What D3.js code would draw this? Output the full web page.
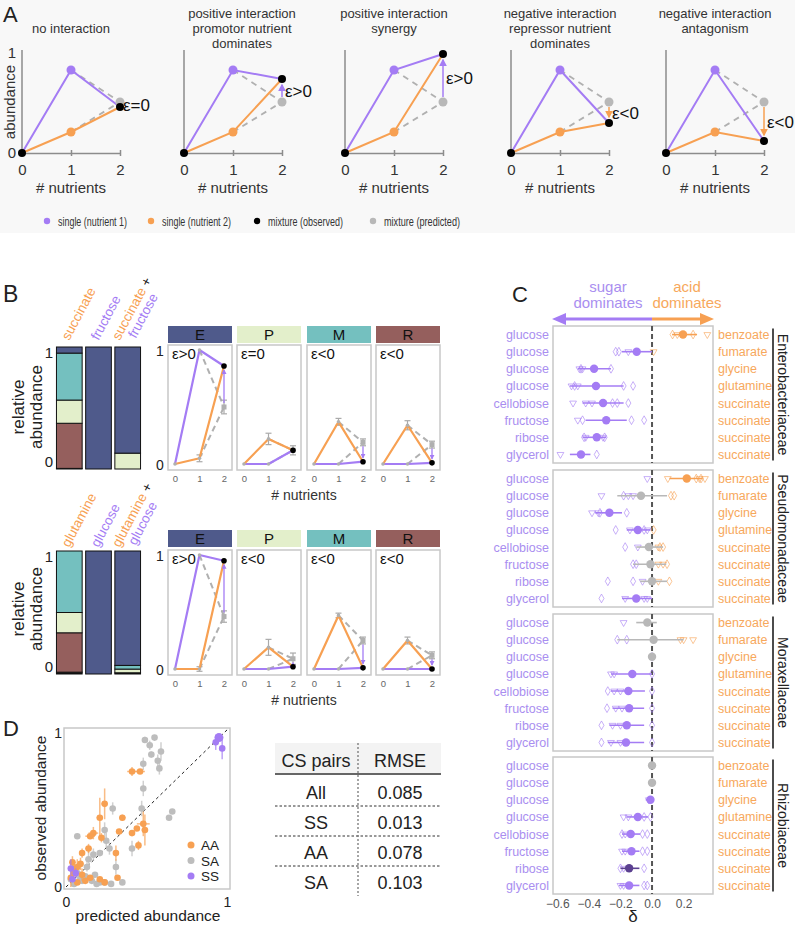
<!DOCTYPE html>
<html><head><meta charset="utf-8">
<script src="https://cdn.jsdelivr.net/npm/d3@7"></script>
<style>
body{margin:0;background:#fff;}
svg{display:block;font-family:"Liberation Sans",Arial,Helvetica,sans-serif;}
</style></head><body>
<svg id="fig" width="795" height="927"></svg>
<script>
// ================= DATA =================
// Panel A
const aTitles = [["no interaction"],["positive interaction","promotor nutrient","dominates"],["positive interaction","synergy"],["negative interaction","repressor nutrient","dominates"],["negative interaction","antagonism"]];
const aXTicks = [0,1,2];
const aYTicks = [0,1];
const aSingle1 = [0.83,0.83,0.83,0.83,0.83];
const aSingle2 = [0.21,0.21,0.21,0.21,0.21];
const aPredicted = [0.51,0.51,0.51,0.51,0.51];
const aObserved = [0.46,0.74,0.99,0.30,0.12];
const aEpsilon = ["ε=0","ε>0","ε>0","ε<0","ε<0"];
const legendLabels = ["single (nutrient 1)","single (nutrient 2)","mixture (observed)","mixture (predicted)"];

// Panel B
const bFamilies = ["E","P","M","R"];
const bStackKeys = ["other","R","P","M","E"]; // bottom -> top
const bTopBarNames = [["succinate"],["fructose"],["succinate","fructose"]];
const bBotBarNames = [["glutamine"],["glucose"],["glutamine","glucose"]];
const bTopComposition = [[0.005,0.37,0.19,0.385,0.05],[0,0,0,0,1],[0,0,0.13,0,0.87]];
const bBotComposition = [[0.015,0.32,0.165,0.5,0],[0,0,0,0,1],[0.01,0,0.03,0.03,0.93]];
const bNutrientTicks = [0,1,2];
const bTopSugar = [1.0,0,0,0];
const bTopAcid = [0.05,0.22,0.37,0.34];
const bTopObserved = [0.86,0.12,0.02,0.01];
const bTopPredicted = [0.5,0.12,0.19,0.17];
const bTopAcidErr = [0.03,0.05,0.03,0.04];
const bTopPredErr = [0.06,0.04,0.03,0.03];
const bTopEps = ["ε>0","ε=0","ε<0","ε<0"];
const bBotSugar = [1.0,0,0,0];
const bBotAcid = [0.0,0.19,0.47,0.25];
const bBotObserved = [0.95,0.02,0.01,0.0];
const bBotPredicted = [0.46,0.09,0.25,0.12];
const bBotAcidErr = [0.02,0.07,0.02,0.03];
const bBotPredErr = [0.05,0.05,0.03,0.03];
const bBotEps = ["ε>0","ε<0","ε<0","ε<0"];

// Panel C
const cFamilies = ["Enterobacteriaceae","Pseudomonadaceae","Moraxellaceae","Rhizobiaceae"];
const cSugars = ["glucose","glucose","glucose","glucose","cellobiose","fructose","ribose","glycerol"];
const cAcids = ["benzoate","fumarate","glycine","glutamine","succinate","succinate","succinate","succinate"];
const cTicks = [-0.6,-0.4,-0.2,0,0.2];
const cDelta = [
  [0.196,-0.097,-0.367,-0.355,-0.31,-0.29,-0.35,-0.45],
  [0.22,-0.07,-0.27,-0.09,-0.02,-0.01,0.0,-0.10],
  [-0.03,0.01,0.0,-0.125,-0.15,-0.145,-0.16,-0.165],
  [0.0,0.0,-0.01,-0.09,-0.135,-0.13,-0.145,-0.145]];
const cLow = [
  [0.127,-0.19,-0.47,-0.52,-0.44,-0.42,-0.44,-0.52],
  [0.11,-0.22,-0.36,-0.16,-0.10,-0.12,-0.075,-0.19],
  [-0.10,-0.22,0.0,-0.26,-0.26,-0.25,-0.27,-0.28],
  [0.0,0.0,-0.04,-0.16,-0.19,-0.19,-0.20,-0.21]];
const cHigh = [
  [0.285,0.0,-0.26,-0.18,-0.18,-0.16,-0.29,-0.39],
  [0.32,0.095,-0.19,-0.01,0.07,0.09,0.095,0.0],
  [0.03,0.20,0.0,0.0,-0.045,-0.05,-0.05,-0.05],
  [0.0,0.0,0.005,-0.025,-0.075,-0.08,-0.08,-0.08]];
const cWinner = [
  ["A","S","S","S","S","S","S","S"],
  ["A","N","S","S","N","N","N","S"],
  ["N","N","N","S","S","S","S","S"],
  ["N","N","S","S","S","S","D","S"]];
const cDiamonds = [
  [[0.13,0.26],[-0.23,-0.21],[-0.26,-0.45],[-0.18,-0.12,-0.49],[-0.15,-0.22,-0.25],[-0.13,-0.05,-0.44],[-0.30,-0.43],[-0.35]],
  [[0.28,0.31],[-0.18,0.12,0.14],[-0.16,-0.33],[-0.23,0.01,-0.05],[-0.17,0.07,0.05],[-0.12,0.095,-0.10],[-0.28,-0.12,0.11],[-0.32]],
  [[],[-0.22,-0.16],[0.0],[0.0],[-0.28,0.0],[-0.285,0.0],[-0.32,0.0],[-0.32,0.0]],
  [[],[],[],[-0.01,-0.05],[-0.03,-0.06,-0.19],[-0.03,-0.06],[-0.05,-0.20],[-0.03,-0.05]]];
const cTriangles = [
  [[0.35,0.16],[0.01,-0.15],[-0.46,-0.44],[-0.51,-0.47],[-0.50,-0.38,-0.42],[-0.47],[-0.42,-0.31],[-0.58]],
  [[0.10,0.335,-0.03,0.30],[-0.32,-0.15,-0.12],[-0.38,-0.34],[-0.14,-0.03],[-0.09,0.04],[0.04,0.07],[0.04,-0.06],[-0.17,-0.05,-0.03]],
  [[-0.18],[0.18,0.20,0.26],[],[-0.26,-0.24],[-0.20,-0.24],[-0.23,-0.19],[-0.25,-0.20],[-0.26,-0.20]],
  [[],[],[-0.02],[-0.18,-0.15],[-0.17],[-0.19,-0.17],[-0.18],[-0.20,-0.18]]];

// Panel D  [predicted, observed, xerr, yerr]
const dTicks = [0,1];
const dSA = [[0.49,0.955,0,0.02],[0.55,0.97,0,0],[0.52,0.92,0.01,0.03],[0.53,0.86,0,0.02],[0.59,0.88,0,0.06],[0.57,0.82,0,0.04],[0.48,0.80,0,0.04],[0.58,0.77,0,0.04],[0.48,0.64,0,0.05],[0.47,0.51,0,0.05],[0.66,0.49,0,0],[0.64,0.45,0,0],[0.29,0.51,0,0.04],[0.24,0.37,0,0.05],[0.25,0.30,0,0.05],[0.21,0.22,0,0],[0.27,0.25,0,0.04],[0.31,0.13,0,0.05],[0.41,0.25,0,0.05],[0.07,0.33,0,0],[0.14,0.18,0.02,0.06],[0.17,0.21,0,0.04],[0.21,0.03,0,0],[0.24,0.03,0,0],[0.28,0.02,0,0],[0.35,0.03,0,0],[0.13,0.13,0,0.03],[0.07,0.09,0,0.06],[0.10,0.04,0,0],[0.16,0.04,0,0],[0.19,0.02,0,0],[0.05,0.02,0,0],[0.12,0.07,0,0],[0.18,0.08,0,0],[0.09,0.06,0,0.04],[0.03,0.05,0,0]];
const dAA = [[0.41,0.75,0.03,0.03],[0.46,0.75,0.03,0],[0.24,0.54,0.02,0.10],[0.21,0.45,0.02,0.13],[0.35,0.45,0.02,0.02],[0.33,0.36,0.02,0],[0.48,0.41,0.04,0.08],[0.49,0.37,0.02,0.10],[0.44,0.38,0,0],[0.41,0.35,0,0],[0.17,0.35,0.03,0.04],[0.15,0.33,0.03,0],[0.22,0.32,0,0.03],[0.14,0.25,0.02,0.03],[0.10,0.22,0,0.03],[0.45,0.27,0,0.03],[0.31,0.22,0,0.05],[0.04,0.16,0.02,0.04],[0.09,0.15,0.02,0.04],[0.05,0.12,0.03,0.03],[0.07,0.13,0,0.05],[0.15,0.06,0.02,0],[0.21,0.05,0,0],[0.32,0.06,0,0],[0.10,0.08,0,0.04],[0.03,0.06,0,0.06],[0.07,0.03,0,0],[0.24,0.03,0,0],[0.12,0.04,0,0],[0.05,0.09,0.02,0]];
const dSS = [[0.95,0.97,0,0.02],[0.93,0.94,0,0.05],[0.97,0.90,0,0.07],[0.03,0.12,0,0.06],[0.06,0.09,0,0.03],[0.04,0.05,0,0]];
const dLegend = ["AA","SA","SS"];
const tableHeader = ["CS pairs","RMSE"];
const tablePairs = ["All","SS","AA","SA"];
const tableRMSE = ["0.085","0.013","0.078","0.103"];

// ================= STYLE =================
const COL = {purple:"#a47cf4", orange:"#f7a052", gray:"#b4b4b4", dark:"#5b4090", txt:"#222",
  lpurple:"#a98ef0", lorange:"#f7a85c"};
const famColor = {E:"#4f5a8b", P:"#e3efcb", M:"#74c0bf", R:"#955f5d", other:"#111"};
const intFmt = d3.format("d");

const svg = d3.select("#fig");
const defs = svg.append("defs");
[["p",COL.purple],["o",COL.orange]].forEach(([k,c])=>{
  defs.append("marker").attr("id","ah-"+k).attr("viewBox","0 0 10 10").attr("refX",8).attr("refY",5)
    .attr("markerWidth",8).attr("markerHeight",8).attr("markerUnits","userSpaceOnUse").attr("orient","auto")
    .append("path").attr("d","M0,0L10,5L0,10z").attr("fill",c);
  defs.append("marker").attr("id","ahs-"+k).attr("viewBox","0 0 10 10").attr("refX",8).attr("refY",5)
    .attr("markerWidth",5).attr("markerHeight",5).attr("markerUnits","userSpaceOnUse").attr("orient","auto")
    .append("path").attr("d","M0,0L10,5L0,10z").attr("fill",c);
});
function T(g,s,x,y,size,opt={}){
  const t=g.append("text").attr("x",x).attr("y",y).attr("font-size",size).attr("fill",opt.fill||COL.txt)
   .attr("text-anchor",opt.anchor||"start").text(s);
  if(opt.transform) t.attr("transform",opt.transform);
  if(opt.len) t.attr("textLength",opt.len).attr("lengthAdjust","spacingAndGlyphs");
  return t;
}
const line = d3.line();

// ================= PANEL A =================
svg.append("rect").attr("x",0).attr("y",0).attr("width",795).attr("height",233).attr("fill","#f8f8f8");
T(svg,"A",3,22,22);
const aOrigins=[22,184,345,511,666];
const aTitleDx=[0,9,0,0,0];
aOrigins.forEach((ox,i)=>{
  const x=d3.scaleLinear().domain([0,2]).range([ox,ox+98]);
  const y=d3.scaleLinear().domain([0,1]).range([153,53]);
  const g=svg.append("g");
  aTitles[i].forEach((s,j,arr)=>T(g,s,ox+49+aTitleDx[i],(arr.length===1?33:18)+15*j,13,{anchor:"middle",fill:"#333"}));
  g.append("line").attr("x1",ox).attr("x2",ox).attr("y1",50).attr("y2",y(0)).attr("stroke","#8c8c8c").attr("stroke-width",1.5);
  const xa=g.append("g").attr("transform",`translate(0,${y(0)})`)
    .call(d3.axisBottom(x).tickValues(aXTicks).tickFormat(intFmt).tickSize(3).tickSizeOuter(0).tickPadding(8));
  xa.attr("font-family",null).attr("font-size",15);
  xa.select(".domain").attr("stroke","#8c8c8c").attr("stroke-width",1.5);
  xa.selectAll(".tick line").attr("y1",-3).attr("y2",3).attr("stroke","#8c8c8c").attr("stroke-width",1.5);
  xa.selectAll(".tick text").attr("fill","#333");
  if(i===0){
    const ya=g.append("g").attr("transform",`translate(${ox},0)`).call(d3.axisLeft(y).tickValues(aYTicks).tickFormat(intFmt).tickSize(0).tickPadding(6));
    ya.attr("font-family",null).attr("font-size",15); ya.select(".domain").remove();
    ya.selectAll(".tick text").attr("fill","#333");
    T(g,"abundance",0,0,15,{anchor:"middle",fill:"#333",transform:`translate(15,102) rotate(-90)`});
  }
  T(g,"# nutrients",x(1),193,15,{anchor:"middle",fill:"#333"});
  const s1=aSingle1[i], s2=aSingle2[i], pr=aPredicted[i], ob=aObserved[i];
  [[[1,s1],[2,pr]],[[1,s2],[2,pr]]].forEach(seg=>{
    g.append("path").attr("d",line(seg.map(d=>[x(d[0]),y(d[1])]))).attr("fill","none")
     .attr("stroke","#b0b0b0").attr("stroke-width",1.8).attr("stroke-dasharray","6,5");
  });
  g.append("path").attr("d",line([[0,0],[1,s1],[2,ob]].map(d=>[x(d[0]),y(d[1])]))).attr("fill","none").attr("stroke",COL.purple).attr("stroke-width",2);
  g.append("path").attr("d",line([[0,0],[1,s2],[2,ob]].map(d=>[x(d[0]),y(d[1])]))).attr("fill","none").attr("stroke",COL.orange).attr("stroke-width",2);
  g.append("circle").attr("cx",x(1)).attr("cy",y(s1)).attr("r",4.5).attr("fill",COL.purple);
  g.append("circle").attr("cx",x(1)).attr("cy",y(s2)).attr("r",4.5).attr("fill",COL.orange);
  g.append("circle").attr("cx",x(2)).attr("cy",y(pr)).attr("r",4.5).attr("fill","#b8b8b8");
  g.append("circle").attr("cx",x(0)).attr("cy",y(0)).attr("r",4).attr("fill","#000");
  g.append("circle").attr("cx",x(2)).attr("cy",y(ob)).attr("r",4).attr("fill","#000");
  const diff=ob-pr;
  if(Math.abs(diff)>0.05){
    const up=diff>0, k=up?"p":"o";
    g.append("line").attr("x1",x(2)).attr("x2",x(2))
      .attr("y1",y(pr)+(up?-5:5)).attr("y2",y(ob)+(up?6:-6))
      .attr("stroke",up?COL.purple:COL.orange).attr("stroke-width",1.5).attr("marker-end",`url(#ah-${k})`);
  }
  T(g,aEpsilon[i],ox+101,(y(pr)+y(ob))/2+6,17,{fill:"#111"});
});
// legend
const legCols=[COL.purple,COL.orange,"#000","#b8b8b8"];
const legX=[47,151,257,373];
const legW=[69,69,75,76];
legendLabels.forEach((s,i)=>{
  svg.append("circle").attr("cx",legX[i]).attr("cy",221).attr("r",3.2).attr("fill",legCols[i]);
  T(svg,s,legX[i]+11,225.5,12.5,{fill:"#333",len:legW[i]});
});

// ================= PANEL B =================
T(svg,"B",3,302,23);
const bRows=[
  {barTop:347,barBot:469,hTop:326,pTop:345,names:bTopBarNames,comp:bTopComposition,sug:bTopSugar,acid:bTopAcid,obs:bTopObserved,pred:bTopPredicted,aErr:bTopAcidErr,pErr:bTopPredErr,eps:bTopEps,lab:341,ylab:407},
  {barTop:551,barBot:674,hTop:530,pTop:550,names:bBotBarNames,comp:bBotComposition,sug:bBotSugar,acid:bBotAcid,obs:bBotObserved,pred:bBotPredicted,aErr:bBotAcidErr,pErr:bBotPredErr,eps:bBotEps,lab:548,ylab:609}
];
const bx=d3.scaleBand().domain([0,1,2]).range([55,142]).paddingInner(0.12).paddingOuter(0.05);
const bPanelX=[168,237,307,376];
bRows.forEach(row=>{
  const g=svg.append("g");
  const by=d3.scaleLinear().domain([0,1]).range([row.barBot,row.barTop]);
  const stackData=row.comp.map((c,i)=>{const o={i};bStackKeys.forEach((k,j)=>o[k]=c[j]);return o;});
  const series=d3.stack().keys(bStackKeys)(stackData);
  series.forEach(s=>{
    s.forEach(d=>{
      if(d[1]-d[0]<=0) return;
      g.append("rect").attr("x",bx(d.data.i)).attr("width",bx.bandwidth())
        .attr("y",by(d[1])).attr("height",by(d[0])-by(d[1]))
        .attr("fill",famColor[s.key]).attr("stroke","#111").attr("stroke-width",1);
    });
  });
  T(g,"1",53,by(1)+11,15,{anchor:"end"});
  T(g,"0",53,by(0)-2,15,{anchor:"end"});
  T(g,"relative",0,0,17,{anchor:"middle",transform:`translate(24,${row.ylab}) rotate(-90)`});
  T(g,"abundance",0,0,17,{anchor:"middle",transform:`translate(42,${row.ylab}) rotate(-90)`});
  row.names.forEach((nm,i)=>{
    const c=bx(i)+bx.bandwidth()/2;
    nm.forEach((s,j)=>{
      const isAcid = (j===0 && i!==1);
      const px = nm.length===1 ? c : c-8+16*j;
      const py = row.lab - 2*j;
      const t=g.append("text").attr("font-size",13.5).attr("transform",`translate(${px},${py}) rotate(-62)`);
      t.append("tspan").attr("fill",isAcid?COL.orange:COL.purple).text(s);
      if(nm.length>1 && j===0) t.append("tspan").attr("fill","#111").text(" +");
    });
  });
  // small multiples
  bFamilies.forEach((f,j)=>{
    const px=bPanelX[j], top=row.pTop;
    const x=d3.scaleLinear().domain([0,2]).range([px+7,px+56]);
    const y=d3.scaleLinear().domain([0,1]).range([top+119,top+5]);
    g.append("rect").attr("x",px).attr("y",row.hTop).attr("width",64).attr("height",17).attr("fill",famColor[f]);
    T(g,f,px+32,row.hTop+14,15,{anchor:"middle",fill:"#111"});
    g.append("rect").attr("x",px).attr("y",top).attr("width",64).attr("height",125).attr("fill","#fff").attr("stroke","#c8c8c8").attr("stroke-width",1.5);
    const xa=g.append("g").attr("transform",`translate(0,${top+125})`).call(d3.axisBottom(x).tickValues(bNutrientTicks).tickFormat(intFmt).tickSize(0).tickPadding(5));
    xa.attr("font-family",null).attr("font-size",9.5); xa.select(".domain").remove(); xa.selectAll(".tick text").attr("fill","#666");
    const s1=row.sug[j], s2=row.acid[j], pr=row.pred[j], ob=row.obs[j];
    [[[1,s1],[2,pr]],[[1,s2],[2,pr]]].forEach(seg=>{
      g.append("path").attr("d",line(seg.map(d=>[x(d[0]),y(d[1])]))).attr("fill","none")
       .attr("stroke","#b0b0b0").attr("stroke-width",2).attr("stroke-dasharray","6,4");
    });
    [[1,s2,row.aErr[j]],[2,pr,row.pErr[j]]].forEach(([xv,yv,e])=>{
      if(e<=0) return;
      const eg=g.append("g").attr("stroke","#aaa").attr("stroke-width",1.2);
      eg.append("line").attr("x1",x(xv)).attr("x2",x(xv)).attr("y1",y(yv-e)).attr("y2",y(yv+e));
      eg.append("line").attr("x1",x(xv)-3).attr("x2",x(xv)+3).attr("y1",y(yv-e)).attr("y2",y(yv-e));
      eg.append("line").attr("x1",x(xv)-3).attr("x2",x(xv)+3).attr("y1",y(yv+e)).attr("y2",y(yv+e));
    });
    g.append("path").attr("d",line([[0,0],[1,s1],[2,ob]].map(d=>[x(d[0]),y(d[1])]))).attr("fill","none").attr("stroke",COL.purple).attr("stroke-width",2.2).attr("stroke-linejoin","round");
    g.append("path").attr("d",line([[0,0],[1,s2],[2,ob]].map(d=>[x(d[0]),y(d[1])]))).attr("fill","none").attr("stroke",COL.orange).attr("stroke-width",2.2).attr("stroke-linejoin","round");
    [[0,0],[1,s1],[1,s2]].forEach(d=>g.append("circle").attr("cx",x(d[0])).attr("cy",y(d[1])).attr("r",1.8).attr("fill","#b0b0b0"));
    g.append("rect").attr("x",x(2)-2.5).attr("y",y(pr)-2.5).attr("width",5).attr("height",5).attr("fill","#b0b0b0");
    const diff=ob-pr;
    if(Math.abs(diff)>0.05){
      const up=diff>0;
      g.append("line").attr("x1",x(2)).attr("x2",x(2)).attr("y1",y(pr)+(up?-4:4)).attr("y2",y(ob)+(up?4:-4))
        .attr("stroke",COL.purple).attr("stroke-width",1.3).attr("marker-end","url(#ahs-p)");
    }
    g.append("circle").attr("cx",x(2)).attr("cy",y(ob)).attr("r",2.8).attr("fill","#000");
    T(g,row.eps[j],px+4,top+14,15,{fill:"#111"});
    if(j===0){
      T(g,"1",160,y(1)+6,14,{anchor:"middle"});
      T(g,"0",160,y(0)+6,14,{anchor:"middle"});
    }
  });
  T(g,"# nutrients",304,row.pTop+155,14,{anchor:"middle",fill:"#333"});
});

// ================= PANEL C =================
T(svg,"C",512,302,22);
const cx=d3.scaleLinear().domain([-0.627,0.386]).range([553,713]);
T(svg,"sugar",608,292,15,{anchor:"middle",fill:COL.lpurple});
T(svg,"dominates",608,308,15,{anchor:"middle",fill:COL.lpurple});
T(svg,"acid",687,292,15,{anchor:"middle",fill:COL.lorange});
T(svg,"dominates",687,308,15,{anchor:"middle",fill:COL.lorange});
const ay=319;
svg.append("line").attr("x1",cx(0)).attr("x2",cx.range()[0]+10).attr("y1",ay).attr("y2",ay).attr("stroke",COL.purple).attr("stroke-width",3);
svg.append("path").attr("d",`M${cx.range()[0]-1},${ay}L${cx.range()[0]+13},${ay-6}L${cx.range()[0]+13},${ay+6}Z`).attr("fill",COL.purple);
svg.append("line").attr("x1",cx(0)).attr("x2",cx.range()[1]-10).attr("y1",ay).attr("y2",ay).attr("stroke",COL.orange).attr("stroke-width",3);
svg.append("path").attr("d",`M${cx.range()[1]+1},${ay}L${cx.range()[1]-13},${ay-6}L${cx.range()[1]-13},${ay+6}Z`).attr("fill",COL.orange);
const cBoxTops=[326,470,614,757], cBoxH=137;
const dotCol={S:COL.purple,A:COL.orange,N:"#b8b8b8",D:COL.dark};
const diamond=d3.symbol().type(d3.symbolDiamond).size(22);
const tri=d3.symbol().type(d3.symbolTriangle).size(20);
cFamilies.forEach((fam,b)=>{
  const top=cBoxTops[b];
  const g=svg.append("g");
  const y=d3.scalePoint().domain(d3.range(8)).range([top,top+cBoxH]).padding(0.5);
  g.append("rect").attr("x",553).attr("y",top).attr("width",160).attr("height",cBoxH).attr("fill","none").attr("stroke","#c8c8c8").attr("stroke-width",1.5);
  g.append("line").attr("x1",cx(0)).attr("x2",cx(0)).attr("y1",top).attr("y2",top+cBoxH).attr("stroke","#555").attr("stroke-width",2).attr("stroke-dasharray","5,3");
  d3.range(8).forEach(r=>{
    const yy=y(r);
    T(g,cSugars[r],549,yy+4.5,12.5,{anchor:"end",fill:COL.lpurple});
    T(g,cAcids[r],718,yy+4.5,12.5,{fill:COL.lorange});
    cDiamonds[b][r].forEach(v=>g.append("path").attr("d",diamond).attr("transform",`translate(${cx(v)},${yy})`)
      .attr("fill","none").attr("stroke",v>0?COL.orange:COL.purple).attr("stroke-width",1).attr("opacity",0.6));
    cTriangles[b][r].forEach(v=>g.append("path").attr("d",tri).attr("transform",`translate(${cx(v)},${yy}) rotate(180)`)
      .attr("fill","none").attr("stroke",v>0?COL.orange:COL.purple).attr("stroke-width",1).attr("opacity",0.6));
    const col=dotCol[cWinner[b][r]];
    if(cHigh[b][r]-cLow[b][r]>0)
      g.append("line").attr("x1",cx(cLow[b][r])).attr("x2",cx(cHigh[b][r])).attr("y1",yy).attr("y2",yy).attr("stroke",col).attr("stroke-width",1.6);
    g.append("circle").attr("cx",cx(cDelta[b][r])).attr("cy",yy).attr("r",4.2).attr("fill",col);
  });
  g.append("line").attr("x1",773).attr("x2",773).attr("y1",y(0)-6).attr("y2",y(7)+6).attr("stroke","#111").attr("stroke-width",1.5);
  T(g,fam,0,0,14,{anchor:"middle",fill:"#222",transform:`translate(778,${top+cBoxH/2}) rotate(90)`});
});
const cxa=svg.append("g").attr("transform",`translate(0,${cBoxTops[3]+cBoxH})`)
  .call(d3.axisBottom(cx).tickValues(cTicks).tickSize(0).tickPadding(5).tickFormat(d3.format(".1f")));
cxa.attr("font-family",null).attr("font-size",12); cxa.select(".domain").remove(); cxa.selectAll(".tick text").attr("fill","#555");
T(svg,"δ",633,922,17,{anchor:"middle"});

// ================= PANEL D =================
T(svg,"D",3,736,22);
const dx=d3.scaleLinear().domain([0,1]).range([66,227]);
const dy=d3.scaleLinear().domain([0,1]).range([887,733]);
svg.append("rect").attr("x",64).attr("y",728).attr("width",166).attr("height",161).attr("fill","none").attr("stroke","#c8c8c8").attr("stroke-width",1.5);
svg.append("line").attr("x1",dx(0)).attr("y1",dy(0)).attr("x2",dx(1.01)).attr("y2",dy(1.03)).attr("stroke","#222").attr("stroke-width",1).attr("stroke-dasharray","3,3");
const dya=svg.append("g").attr("transform","translate(64,0)").call(d3.axisLeft(dy).tickValues(dTicks).tickFormat(intFmt).tickSize(0).tickPadding(2));
dya.attr("font-family",null).attr("font-size",14); dya.select(".domain").remove(); dya.selectAll(".tick text").attr("fill","#222");
const dxa=svg.append("g").attr("transform","translate(0,889)").call(d3.axisBottom(dx).tickValues(dTicks).tickFormat(intFmt).tickSize(0).tickPadding(8));
dxa.attr("font-family",null).attr("font-size",14); dxa.select(".domain").remove(); dxa.selectAll(".tick text").attr("fill","#222");
T(svg,"observed abundance",0,0,15.5,{anchor:"middle",transform:"translate(46,808) rotate(-90)"});
T(svg,"predicted abundance",148,921,15.5,{anchor:"middle"});
[[dSA,"#bdbdbd"],[dAA,COL.orange],[dSS,COL.purple]].forEach(([arr,col],k)=>{
  const g=svg.append("g");
  arr.forEach(d=>{
    if(d[3]>0) g.append("line").attr("x1",dx(d[0])).attr("x2",dx(d[0])).attr("y1",dy(d[1]-d[3])).attr("y2",dy(d[1]+d[3])).attr("stroke",col).attr("stroke-width",1.5).attr("opacity",0.7);
    if(d[2]>0) g.append("line").attr("x1",dx(d[0]-d[2])).attr("x2",dx(d[0]+d[2])).attr("y1",dy(d[1])).attr("y2",dy(d[1])).attr("stroke",col).attr("stroke-width",1.5).attr("opacity",0.7);
  });
  arr.forEach((d,i)=>g.append("circle").attr("cx",dx(d[0])).attr("cy",dy(d[1])).attr("r",(k===2&&i===0)?4.5:3.3).attr("fill",col));
});
const dLegCol=[COL.orange,"#bdbdbd",COL.purple];
dLegend.forEach((s,i)=>{
  svg.append("circle").attr("cx",191).attr("cy",845+15.5*i).attr("r",3.5).attr("fill",dLegCol[i]);
  T(svg,s,201,850+15.5*i,13.5);
});
// table
const tg=svg.append("g");
tg.append("rect").attr("x",275).attr("y",743).attr("width",166).attr("height",30).attr("fill","#f3f3f3");
tg.append("line").attr("x1",275).attr("x2",441).attr("y1",774).attr("y2",774).attr("stroke","#333").attr("stroke-width",1.5);
T(tg,tableHeader[0],316,767,18,{anchor:"middle"});
T(tg,tableHeader[1],400,767,18,{anchor:"middle"});
const rowY=[792,822,852,882];
tablePairs.forEach((p,i)=>{
  T(tg,p,316,rowY[i]+6.5,18,{anchor:"middle"});
  T(tg,tableRMSE[i],400,rowY[i]+6.5,18,{anchor:"middle"});
  if(i<3) tg.append("line").attr("x1",275).attr("x2",441).attr("y1",rowY[i]+14).attr("y2",rowY[i]+14).attr("stroke","#333").attr("stroke-width",1).attr("stroke-dasharray","2.5,2");
});
tg.append("line").attr("x1",358).attr("x2",358).attr("y1",743).attr("y2",896).attr("stroke","#777").attr("stroke-width",1.3).attr("stroke-dasharray","2,2");
</script>
</body></html>
